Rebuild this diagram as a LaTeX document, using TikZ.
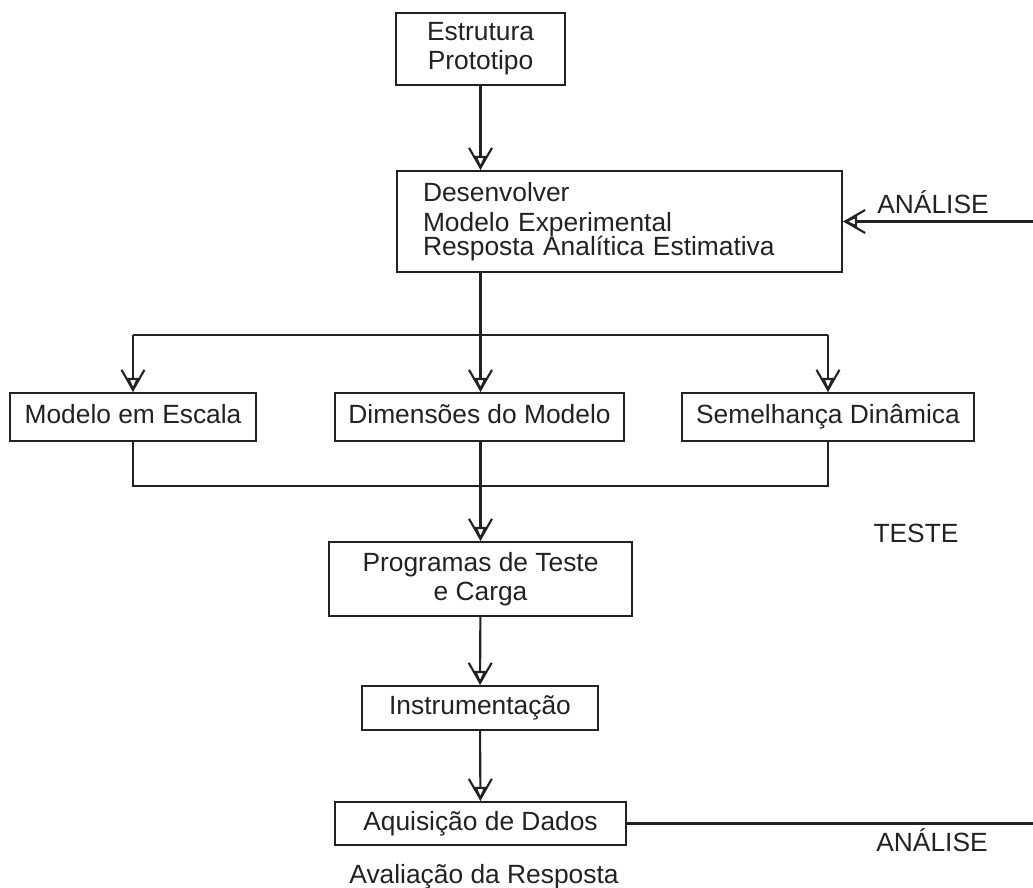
\documentclass[tikz,border=0pt]{standalone}
\usepackage{fontspec}
\setmainfont{Liberation Sans}
\usetikzlibrary{arrows.meta,positioning,calc}
\definecolor{ink}{HTML}{222222}

\begin{document}
\begin{tikzpicture}[
      blk/.style={draw=ink, line width=1.2pt, fill=white, align=center, inner sep=0pt,
                  font=\fontsize{15}{16.5}\selectfont, text=ink},
      one/.style={text height=11pt, text depth=3.5pt},
      lbl/.style={font=\fontsize{15}{16.5}\selectfont, text=ink},
      arr/.style={-{Straight Barb[length=4mm,width=4.6mm,sep=-2.8mm]Triangle[open,length=2.8mm,width=2.4mm]}, draw=ink, line width=1.2pt},
      lin/.style={draw=ink, line width=1.2pt}]
    \useasboundingbox (0,0) rectangle (20.66,-17.76);
    \node[blk, minimum width=3.38cm, minimum height=1.44cm] (est) at (9.61,-0.98) {Estrutura\\Prototipo};
    \node[blk, minimum width=8.9cm, minimum height=2.02cm, text width=7.86cm, align=left] (des) at (12.39,-4.43)
         {Desenvolver\\[1pt]Modelo Experimental\\[-3pt]Resposta Analítica Estimativa};
    \node[blk, one, minimum width=4.92cm, minimum height=0.96cm] (mesc) at (2.66,-8.34) {Modelo em Escala};
    \node[blk, one, minimum width=5.78cm, minimum height=0.96cm] (dim) at (9.59,-8.34) {Dimensões do Modelo};
    \node[blk, one, minimum width=5.84cm, minimum height=0.96cm] (sem) at (16.56,-8.34) {Semelhança Dinâmica};
    \node[blk, minimum width=6.06cm, minimum height=1.48cm] (prog) at (9.61,-11.58) {Programas de Teste\\e Carga};
    \node[blk, one, minimum width=4.72cm, minimum height=0.88cm] (inst) at (9.6,-14.16) {Instrumentação};
    \node[blk, one, minimum width=5.82cm, minimum height=0.86cm] (aqu) at (9.61,-16.47) {Aquisição de Dados};
    \node[lbl] (aval) at (9.68,-17.54) {Avaliação da Resposta};
    \node[lbl] (an1) at (18.66,-4.04) {ANÁLISE};
    \node[lbl] (tst) at (18.32,-10.66) {TESTE};
    \node[lbl] (an2) at (18.64,-16.8) {ANÁLISE};
    \coordinate (br) at (9.61,-6.7);
    \coordinate (jn) at (9.61,-9.72);
    \coordinate (r1) at (20.66,-4.43);
    \coordinate (r2) at (20.66,-16.47);
    \draw[arr] (est) -- (est.south |- des.north);
    \draw[arr] (des.south -| br) -- (br |- dim.north);
    \draw[lin] (mesc.north |- br) -- (sem.north |- br);
    \draw[arr] (mesc.north |- br) -- (mesc.north);
    \draw[arr] (sem.north |- br) -- (sem.north);
    \draw[lin] (mesc.south) -- (mesc.south |- jn) -- (sem.south |- jn) -- (sem.south);
    \draw[arr] (dim.south -| jn) -- (jn |- prog.north);
    \draw[arr] (prog) -- (inst);
    \draw[arr] (inst) -- (aqu);
    \draw[arr] (r1) -- (des.east);
    \draw[lin] (aqu.east) -- (r2);
  \end{tikzpicture}
\end{document}
